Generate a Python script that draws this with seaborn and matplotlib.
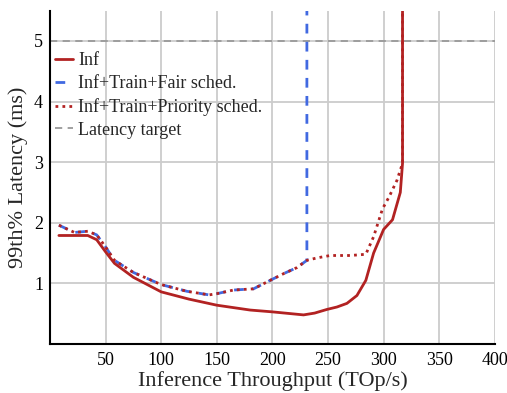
import matplotlib
matplotlib.use("Agg")
import matplotlib.pyplot as plt
import seaborn as sns
import pandas as pd

# Inference-only latency curve
inf_x = [8, 20, 34, 42, 50, 58, 75, 100, 125, 150, 180, 200, 228, 238, 249, 258, 267, 276, 284, 291, 300, 308, 315, 317, 317]
inf_y = [1.79, 1.79, 1.79, 1.72, 1.52, 1.33, 1.10, 0.86, 0.74, 0.64, 0.56, 0.53, 0.48, 0.51, 0.57, 0.61, 0.67, 0.80, 1.05, 1.50, 1.89, 2.05, 2.50, 2.98, 6.0]

# Inference + training, fair scheduling
fair_x = [8, 22, 34, 42, 50, 58, 75, 100, 123, 143, 150, 165, 183, 198, 210, 222, 231, 231]
fair_y = [1.96, 1.84, 1.86, 1.80, 1.60, 1.38, 1.18, 0.98, 0.87, 0.81, 0.83, 0.89, 0.91, 1.05, 1.16, 1.26, 1.38, 6.0]

# Inference + training, priority scheduling
prio_x = [8, 22, 34, 42, 50, 58, 75, 100, 123, 143, 150, 165, 183, 198, 210, 222, 231, 240, 252, 270, 284, 291, 299, 305, 312, 315, 317, 317]
prio_y = [1.96, 1.84, 1.86, 1.80, 1.60, 1.38, 1.18, 0.98, 0.87, 0.81, 0.83, 0.89, 0.91, 1.05, 1.16, 1.26, 1.38, 1.42, 1.46, 1.46, 1.48, 1.77, 2.23, 2.43, 2.70, 2.87, 2.98, 6.0]

latency_target = 5.0
x_ticks = [50, 100, 150, 200, 250, 300, 350, 400]
y_ticks = [1, 2, 3, 4, 5]

sns.set_theme(style="whitegrid")
plt.rcParams["font.family"] = ["Liberation Serif", "DejaVu Serif"]

fig = plt.figure(figsize=(5.07, 3.93), dpi=100)
ax = fig.add_axes([0.0986, 0.1247, 0.8774, 0.8483])

red = "#b22222"
blue = "#4169e1"

ax.axhline(latency_target, color="#999999", lw=1.3, ls=(0, (4, 3)), zorder=1,
           label="Latency target")

sns.lineplot(data=pd.DataFrame({"x": inf_x, "y": inf_y}), x="x", y="y", ax=ax,
             estimator=None, sort=False, color=red, lw=2.0, label="Inf", zorder=3)
sns.lineplot(data=pd.DataFrame({"x": fair_x, "y": fair_y}), x="x", y="y", ax=ax,
             estimator=None, sort=False, color=blue, lw=2.0, ls=(0, (3.5, 3)),
             label="Inf+Train+Fair sched.", zorder=2)
sns.lineplot(data=pd.DataFrame({"x": prio_x, "y": prio_y}), x="x", y="y", ax=ax,
             estimator=None, sort=False, color=red, lw=2.0, ls=(0, (1, 1.5)),
             label="Inf+Train+Priority sched.", zorder=2.5)

ax.set_xlim(0, 400)
ax.set_ylim(0, 5.5)
ax.set_xticks(x_ticks)
ax.set_yticks(y_ticks)
ax.tick_params(axis="both", labelsize=13, length=0, colors="black")
ax.tick_params(axis="x", pad=6)
ax.tick_params(axis="y", pad=5)
ax.grid(True, color="#cccccc", lw=1.3)
for side in ["top", "right"]:
    ax.spines[side].set_visible(False)
for side in ["left", "bottom"]:
    ax.spines[side].set_color("black")
    ax.spines[side].set_linewidth(1.5)

ax.set_xlabel("Inference Throughput (TOp/s)", fontsize=16, labelpad=1)
ax.set_ylabel("99th% Latency (ms)", fontsize=16, labelpad=4)

handles, labels = ax.get_legend_handles_labels()
order = ["Inf", "Inf+Train+Fair sched.", "Inf+Train+Priority sched.", "Latency target"]
hmap = dict(zip(labels, handles))
ax.legend([hmap[l] for l in order], order, loc="upper left",
          bbox_to_anchor=(0.0, 0.888), borderaxespad=0, frameon=False,
          fontsize=13, handlelength=1.05, handletextpad=0.25, labelspacing=0.32,
          borderpad=0.25)

fig.savefig("out.png", dpi=100)
